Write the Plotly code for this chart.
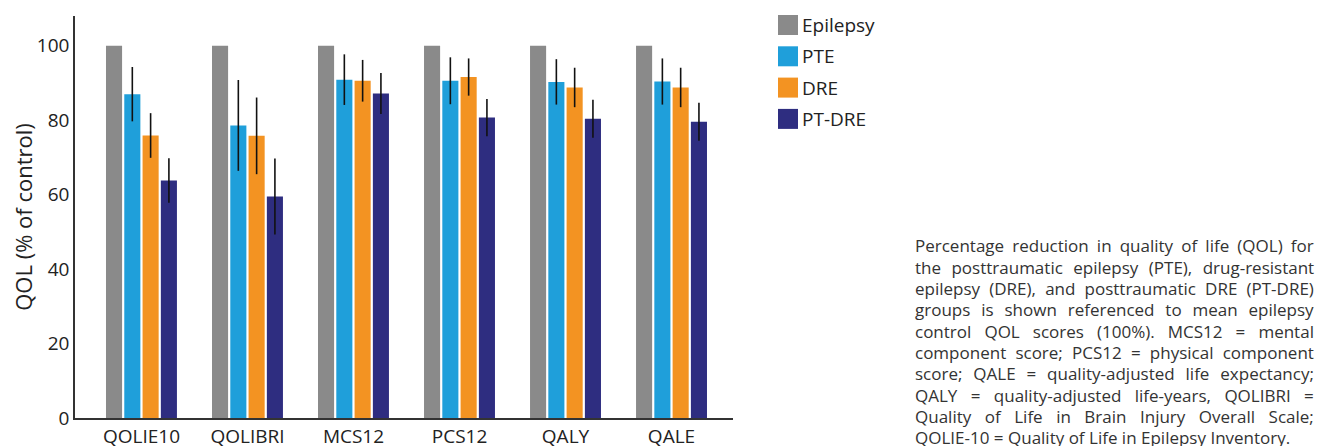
import plotly.graph_objects as go

categories = ["QOLIE10", "QOLIBRI", "MCS12", "PCS12", "QALY", "QALE"]
series_names = ["Epilepsy", "PTE", "DRE", "PT-DRE"]
series_colors = ["#8a8a8a", "#1f9fda", "#f39322", "#2e2d80"]

epilepsy = [100, 100, 100, 100, 100, 100]
pte = [87.0, 78.6, 90.9, 90.6, 90.3, 90.4]
dre = [75.9, 75.8, 90.6, 91.6, 88.8, 88.8]
ptdre = [63.8, 59.5, 87.2, 80.7, 80.4, 79.6]
pte_err = [7.3, 12.2, 6.8, 6.3, 6.1, 6.2]
dre_err = [6.0, 10.3, 5.6, 5.0, 5.3, 5.3]
ptdre_err = [6.0, 10.2, 5.5, 5.0, 5.1, 5.1]

caption_lines = [
    "Percentage reduction in quality of life (QOL) for",
    "the posttraumatic epilepsy (PTE), drug-resistant",
    "epilepsy (DRE), and posttraumatic DRE (PT-DRE)",
    "groups is shown referenced to mean epilepsy",
    "control QOL scores (100%). MCS12 = mental",
    "component score; PCS12 = physical component",
    "score; QALE = quality-adjusted life expectancy;",
    "QALY = quality-adjusted life-years, QOLIBRI =",
    "Quality of Life in Brain Injury Overall Scale;",
    "QOLIE-10 = Quality of Life in Epilepsy Inventory.",
]

# page body has an 8px default margin: figure is drawn from (8, 8)
OFF = 8
W, H = 1329 - OFF, 446 - OFF
L, R, T, B = 67, 596, 8, 28
FONT = "Open Sans"
TXT = "#222222"

# approximate Open Sans advance widths (units per em = 2048) for justification
ADV = {" ": 532, "a": 1139, "b": 1255, "c": 975, "d": 1255, "e": 1149, "f": 694,
       "g": 1122, "h": 1257, "i": 518, "j": 518, "k": 1075, "l": 518, "m": 1905,
       "n": 1257, "o": 1237, "p": 1255, "q": 1255, "r": 836, "s": 977, "t": 723,
       "u": 1257, "v": 1026, "w": 1593, "x": 1073, "y": 1028, "z": 977,
       "A": 1296, "B": 1327, "C": 1292, "D": 1493, "E": 1139, "F": 1057,
       "G": 1491, "H": 1511, "I": 571, "J": 547, "K": 1257, "L": 1073,
       "M": 1849, "N": 1571, "O": 1597, "P": 1237, "Q": 1597, "R": 1264,
       "S": 1104, "T": 1128, "U": 1466, "V": 1217, "W": 1880, "X": 1211,
       "Y": 1158, "Z": 1147, "(": 604, ")": 604, ",": 512, ".": 545, ";": 545,
       "=": 1171, "%": 1696, "-": 659}
CALIB = 1.0


def text_width(s, size):
    return CALIB * sum(ADV.get(ch, 1171) for ch in s) / 2048.0 * size


values = [epilepsy, pte, dre, ptdre]
errors = [None, pte_err, dre_err, ptdre_err]

fig = go.Figure()
for name, color, vals, err in zip(series_names, series_colors, values, errors):
    kw = {}
    if err is not None:
        kw["error_y"] = dict(type="data", array=err, visible=True,
                             color="#111111", thickness=1.6, width=0)
    fig.add_trace(go.Bar(x=categories, y=vals, name=name,
                         marker=dict(color=color, line=dict(width=0)),
                         showlegend=False, **kw))

pw = W - L - R
ph = H - T - B


def px_x(p):
    return (p - OFF - L) / pw


def px_y(p):
    return (H - B - (p - OFF)) / ph


annotations = []
shapes = []

# caption, justified
CAP_SIZE = 17
CAP_W = 399
for i, line in enumerate(caption_lines):
    txt = line
    if i < len(caption_lines) - 1:
        nsp = line.count(" ")
        extra = (CAP_W - text_width(line, CAP_SIZE)) / max(nsp, 1)
        txt = '<span style="word-spacing:%.2fpx">%s</span>' % (extra, line)
    annotations.append(dict(
        text=txt, xref="paper", yref="paper",
        x=px_x(913), y=px_y(246 + i * 21.3),
        xanchor="left", yanchor="middle", showarrow=False,
        font=dict(family=FONT, size=CAP_SIZE, color="#333333"), align="left"))

# legend
for i, (name, color) in enumerate(zip(series_names, series_colors)):
    cy = 25 + i * 31.3
    shapes.append(dict(type="rect", xref="paper", yref="paper",
                       x0=px_x(778), x1=px_x(798), y0=px_y(cy - 10), y1=px_y(cy + 10),
                       fillcolor=color, line=dict(width=0), layer="above"))
    annotations.append(dict(text=name, xref="paper", yref="paper",
                            x=px_x(800), y=px_y(cy), xanchor="left", yanchor="middle",
                            showarrow=False, font=dict(family=FONT, size=19, color=TXT)))

fig.update_layout(
    width=W, height=H,
    margin=dict(l=L, r=R, t=T, b=B, pad=0, autoexpand=False),
    paper_bgcolor="white", plot_bgcolor="white",
    barmode="group", bargap=0.31, bargroupgap=0.12,
    font=dict(family=FONT, size=19, color=TXT),
    showlegend=False,
    annotations=annotations,
    shapes=shapes,
)
fig.update_xaxes(range=[-0.627, 5.58], showline=True, linecolor="#333333",
                 linewidth=1.5, ticks="", showgrid=False, zeroline=False,
                 tickfont=dict(family=FONT, size=19, color=TXT))
fig.update_yaxes(range=[0, 108], tickvals=[0, 20, 40, 60, 80, 100],
                 showline=True, linecolor="#333333", linewidth=1.5,
                 ticks="", showgrid=False, zeroline=False,
                 title=dict(text="QOL (% of control)", standoff=6,
                            font=dict(family=FONT, size=22, color=TXT)),
                 tickfont=dict(family=FONT, size=19, color=TXT))

fig.write_html("out.html")
